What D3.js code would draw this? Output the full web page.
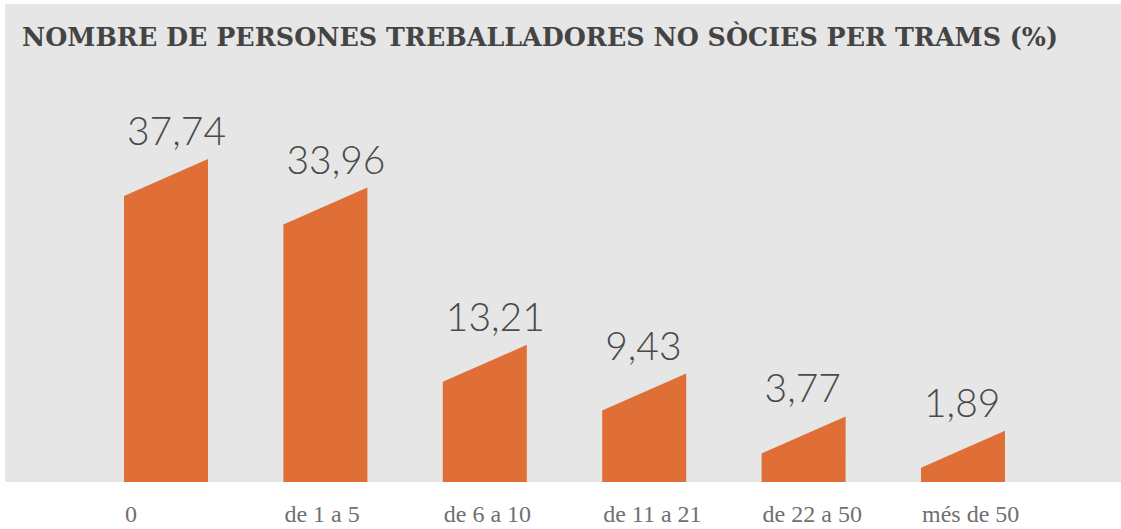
<!DOCTYPE html>
<html>
<head>
<meta charset="utf-8">
<script src="https://cdn.jsdelivr.net/npm/d3@7"></script>
<style>
  html, body { margin: 0; padding: 0; background: #fff; }
  svg { display: block; }
</style>
</head>
<body>
<script>
// data
var categories = ["0", "de 1 a 5", "de 6 a 10", "de 11 a 21", "de 22 a 50", "més de 50"];
var values = [37.74, 33.96, 13.21, 9.43, 3.77, 1.89];
var valueLabels = ["37,74", "33,96", "13,21", "9,43", "3,77", "1,89"];
var title = "NOMBRE DE PERSONES TREBALLADORES NO SÒCIES PER TRAMS (%)";

var W = 1121, H = 529;
var baseY = 482;
var slant = 37;

var svg = d3.select("body").append("svg")
.attr("width", W)
.attr("height", H);

// grey panel
svg.append("rect")
.attr("x", 5)
.attr("y", 4)
.attr("width", W - 5)
.attr("height", baseY - 4)
.attr("fill", "#e6e6e6");

// title
svg.append("text")
.attr("x", 22)
.attr("y", 46)
.attr("font-family", "'DejaVu Serif', serif")
.attr("font-weight", "bold")
.attr("font-size", 26)
.attr("fill", "#444")
.attr("textLength", 1036)
.attr("lengthAdjust", "spacingAndGlyphs")
.text(title);

var x = d3.scaleBand()
.domain(categories)
.range([124, 1005])
.paddingInner(0.473)
.paddingOuter(0);

var y = d3.scaleLinear()
.domain([0, 40])
.range([baseY, baseY - 303.2]);

var data = categories.map(function(c, i) {
  return { cat: c, value: values[i], label: valueLabels[i] };
});

// slanted bars
svg.selectAll("path.bar")
.data(data)
.enter().append("path")
.attr("class", "bar")
.attr("fill", "#e06e37")
.attr("d", function(d) {
  var x0 = x(d.cat), x1 = x0 + x.bandwidth();
  var yt = y(d.value);
  return "M" + x0 + "," + baseY +
    "L" + x0 + "," + yt +
    "L" + x1 + "," + (yt - slant) +
    "L" + x1 + "," + baseY + "Z";
});

// value labels
svg.selectAll("text.val")
.data(data)
.enter().append("text")
.attr("class", "val")
.attr("x", function(d) { return x(d.cat) + 3; })
.attr("y", function(d) { return y(d.value) - 51; })
.attr("font-family", "Lato, Roboto, sans-serif")
.attr("font-weight", 300)
.attr("font-size", 39)
.attr("fill", "#4a4a4a")
.text(function(d) { return d.label; });

// category labels
svg.selectAll("text.cat")
.data(data)
.enter().append("text")
.attr("class", "cat")
.attr("x", function(d) { return x(d.cat) + 1; })
.attr("y", 522)
.attr("font-family", "'Liberation Serif', serif")
.attr("font-size", 24)
.attr("fill", "#707070")
.text(function(d) { return d.cat; });
</script>
</body>
</html>
